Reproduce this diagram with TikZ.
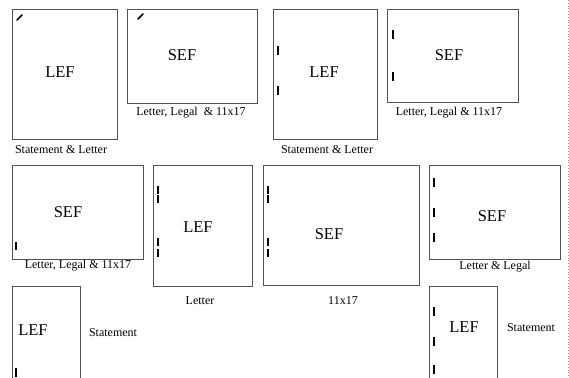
\documentclass[tikz,border=0pt]{standalone}
\usepackage{fontspec}
\setmainfont{Liberation Serif}
\usetikzlibrary{positioning}

\tikzset{
  feuille/.style={draw=black!68, line width=0.9pt},
  repere/.style={line width=1.5pt, line cap=butt},
  sens/.style={font=\fontsize{16.5}{16.5}\selectfont, inner sep=0pt},
  format/.style={font=\fontsize{12}{12}\selectfont, inner sep=0pt}
}

\begin{document}
\begin{tikzpicture}[line join=miter,x=1pt,y=-1pt]
		\useasboundingbox (0,0) rectangle (569,377);
		% Rangee 1
		\draw[feuille] (12,9) rectangle (117,139);
		\draw[feuille] (127,9) rectangle (257,103);
		\draw[feuille] (273,9) rectangle (377,139);
		\draw[feuille] (387,9) rectangle (518,102);
		\node[sens] (lef1) at (60,72) {LEF};
		\node[sens] (sef2) at (182,55) {SEF};
		\node[sens] (lef3) at (324,72) {LEF};
		\node[sens] (sef4) at (449,55) {SEF};
		\node[format] (f1) at (61,150) {Statement \& Letter};
		\node[format] (f2) at (191,113) {Letter, Legal~~\& 11x17};
		\node[format] (f3) at (327,150) {Statement \& Letter};
		\node[format] (f4) at (449,113) {Letter, Legal \& 11x17};
		% Rangee 2
		\draw[feuille] (12,165) rectangle (143,259);
		\draw[feuille] (153,165) rectangle (252,286);
		\draw[feuille] (263,165) rectangle (419,285);
		\draw[feuille] (429,165) rectangle (560,259);
		\node[sens] (sef5) at (68,212) {SEF};
		\node[sens] (lef6) at (198,227) {LEF};
		\node[sens] (sef7) at (329,234) {SEF};
		\node[sens] (sef8) at (492,216) {SEF};
		\node[format] (f5) at (78,266) {Letter, Legal \& 11x17};
		\node[format] (f6) at (200,301) {Letter};
		\node[format] (f7) at (343,301) {11x17};
		\node[format] (f8) at (495,267) {Letter \& Legal};
		% Rangee 3
		\draw[feuille] (12,378)--(12,286)--(80,286)--(80,378);
		\draw[feuille] (429,378)--(429,286)--(497,286)--(497,378);
		\node[sens] (lef9) at (33,330) {LEF};
		\node[sens] (lef10) at (464,327) {LEF};
		\node[format] (f9) at (113,333) {Statement};
		\node[format] (f10) at (531,328) {Statement};
		% marquages des agrafes
		\draw[repere,line cap=round] (17,20)--(22,15);
		\draw[repere,line cap=round] (138,19)--(143,14);
		\foreach \y in {46,86} \draw[repere] (278,\y)--(278,\y+9);
		\foreach \y in {30,72} \draw[repere] (393,\y)--(393,\y+9);
		\draw[repere] (16,242)--(16,250);
		\foreach \y in {186,195,238,249} {
			\draw[repere] (158,\y)--(158,\y+8);
			\draw[repere] (268,\y)--(268,\y+8);
		}
		\foreach \y in {178,208,233} \draw[repere] (434,\y)--(434,\y+9);
		\draw[repere] (16,368)--(16,377);
		\foreach \y in {307,337,365} \draw[repere] (434,\y)--(434,\y+9);
		% bord pointille
		\draw[black!40, dotted, line width=0.8pt] (568,0)--(568,377);
		\end{tikzpicture}
\end{document}
